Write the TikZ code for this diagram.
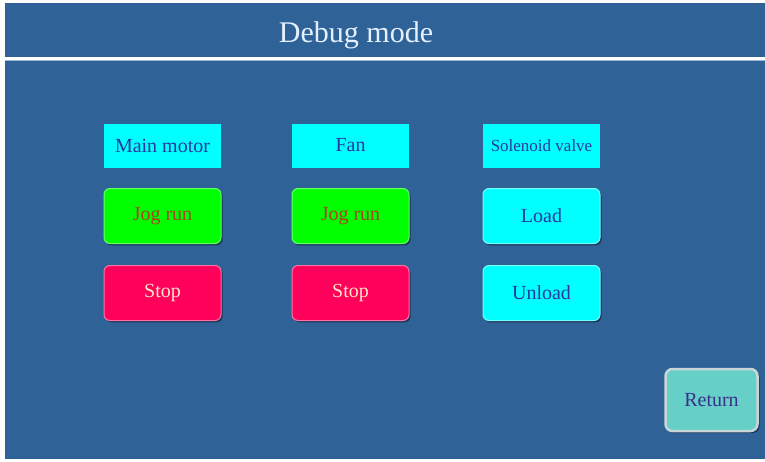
\documentclass[tikz,border=0pt]{standalone}
\usepackage{fontspec}
\setmainfont{Liberation Serif}
\definecolor{bgblue}{RGB}{47,98,150}
\definecolor{titletxt}{RGB}{228,240,255}
\definecolor{cyanb}{RGB}{0,255,255}
\definecolor{cyantxt}{RGB}{40,56,160}
\definecolor{greenb}{RGB}{0,255,0}
\definecolor{greentxt}{RGB}{176,64,32}
\definecolor{stopb}{RGB}{255,0,90}
\definecolor{stoptxt}{RGB}{255,228,200}
\definecolor{retb}{RGB}{102,208,200}
\definecolor{rettxt}{RGB}{58,47,138}
\definecolor{retborder}{RGB}{200,214,216}
\definecolor{shadowc}{RGB}{28,52,88}
\tikzset{
  labelbox/.style={rectangle, fill=cyanb, minimum width=117pt, minimum height=44pt,
    inner sep=0pt, text=cyantxt, font=\fontsize{20}{22}\selectfont},
  btn/.style={rectangle, rounded corners=6pt, minimum width=117pt, minimum height=55pt,
    inner sep=0pt, font=\fontsize{20}{22}\selectfont, line width=1pt,
    preaction={fill=shadowc, transform canvas={shift={(1.5pt,-1.8pt)}}}},
  greenbtn/.style={btn, fill=greenb, draw=greenb!60!white, text=greentxt},
  stopbtn/.style={btn, fill=stopb, draw=stopb!55!white, text=stoptxt},
  cyanbtn/.style={btn, fill=cyanb, draw=cyanb!55!white, text=cyantxt},
  retbtn/.style={rectangle, rounded corners=7pt, minimum width=92pt, minimum height=62pt,
    inner sep=0pt, fill=retb, draw=retborder, line width=2.5pt, text=rettxt,
    font=\fontsize{20}{22}\selectfont,
    preaction={fill=shadowc, transform canvas={shift={(2pt,-2pt)}}}},
}
\begin{document}
\begin{tikzpicture}[x=1pt,y=-1pt]
\useasboundingbox (0,0) rectangle (765,461);
\fill[white] (0,0) rectangle (765,461);
\fill[bgblue] (5,3) rectangle (765,459);
% title
\node[text=titletxt, font=\fontsize{30}{32}\selectfont, inner sep=0pt] (title) at (356,35) {Debug mode};
\draw[white, line width=2.5pt] (5,58.5) -- (765,58.5);
\draw[titletxt!60!bgblue, line width=1pt] (5,60.5) -- (765,60.5);
% labels
\node[labelbox] (mm) at (162.5,145.5) {Main motor};
\node[labelbox] (fan) at (350.5,145.5) {Fan};
\node[labelbox, font=\fontsize{17}{19}\selectfont] (sv) at (541.5,145.5) {Solenoid valve};
% buttons
\node[greenbtn] (jog1) at (162.5,216) {Jog run};
\node[greenbtn] (jog2) at (350.5,216) {Jog run};
\node[cyanbtn] (load) at (541.5,216) {Load};
\node[stopbtn] (stop1) at (162.5,293) {Stop};
\node[stopbtn] (stop2) at (350.5,293) {Stop};
\node[cyanbtn] (unload) at (541.5,293) {Unload};
\node[retbtn] (ret) at (711.5,400) {Return};
\end{tikzpicture}
\end{document}
